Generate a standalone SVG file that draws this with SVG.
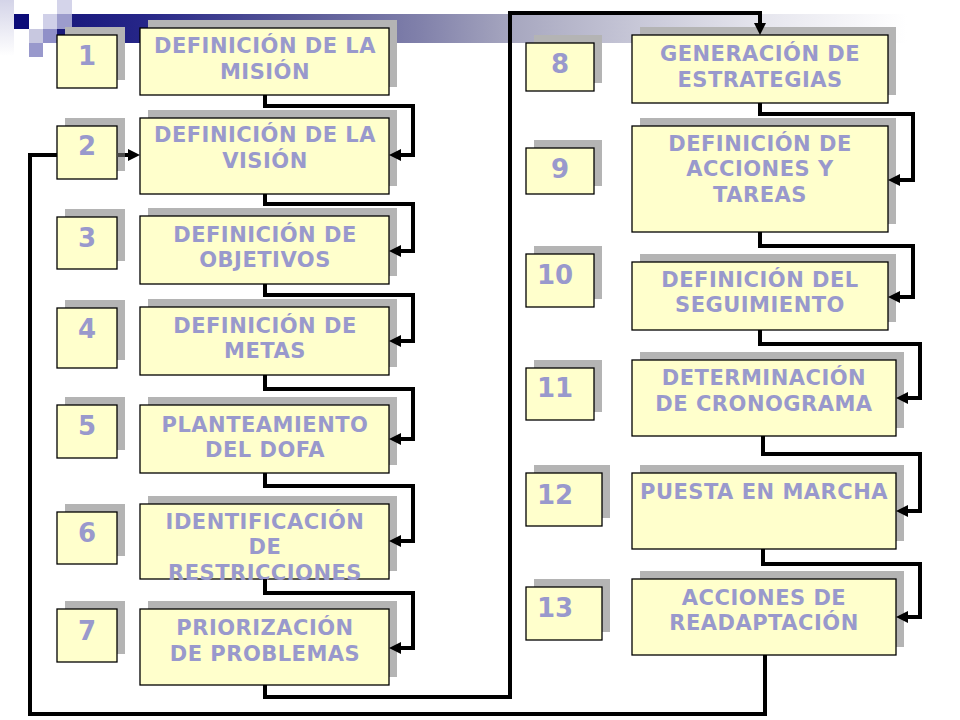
<svg xmlns="http://www.w3.org/2000/svg" width="960" height="720" viewBox="0 0 960 720">
<defs>
<linearGradient id="band" x1="72" y1="0" x2="960" y2="0" gradientUnits="userSpaceOnUse">
<stop offset="0" stop-color="#1a1a7e"/>
<stop offset="0.08" stop-color="#262688"/>
<stop offset="0.26" stop-color="#5a5a98"/>
<stop offset="0.39" stop-color="#8080aa"/>
<stop offset="0.5" stop-color="#a8a8c0"/>
<stop offset="0.64" stop-color="#c8c8d8"/>
<stop offset="0.78" stop-color="#e6e6ee"/>
<stop offset="0.94" stop-color="#ffffff"/>
</linearGradient>
<linearGradient id="strip" x1="0" y1="0" x2="0" y2="1">
<stop offset="0" stop-color="#d4d4e8"/>
<stop offset="1" stop-color="#ffffff"/>
</linearGradient>
<marker id="ah" markerUnits="userSpaceOnUse" markerWidth="12" markerHeight="12" refX="2" refY="6" orient="auto">
<path d="M0,0 L12,6 L0,12 z" fill="#000"/>
</marker>
<style>
.sh{fill:#b4b4b4}
.bx{fill:#ffffcc;stroke:#000;stroke-width:1.3}
.t{font-family:"DejaVu Sans","Verdana",sans-serif;font-weight:bold;font-size:21px;fill:#9999cc;text-anchor:middle;letter-spacing:0.5px}
.n{font-family:"DejaVu Sans","Verdana",sans-serif;font-weight:bold;font-size:26px;fill:#9999cc;text-anchor:middle}
.nl{text-anchor:start}
.c{fill:none;stroke:#000;stroke-width:4;stroke-linejoin:miter}
</style>
</defs>
<rect width="960" height="720" fill="#fff"/>
<g id="decoration">
<rect x="72" y="14" width="888" height="29" fill="url(#band)"/>
<rect x="0" y="0" width="14" height="56" fill="url(#strip)"/>
<rect x="14" y="14" width="15" height="15" fill="#0c0c78"/>
<rect x="43" y="14" width="14" height="15" fill="#d0d0e8"/>
<rect x="57" y="0" width="15" height="14" fill="#d4d4ea"/>
<rect x="57" y="14" width="15" height="15" fill="#9c9ccc"/>
<rect x="29" y="29" width="14" height="14" fill="#c8c8e0"/>
<rect x="43" y="29" width="14" height="14" fill="#9090c8"/>
<rect x="57" y="29" width="15" height="14" fill="#1a1a7a"/>
<rect x="29" y="43" width="14" height="14" fill="#9999cc"/>
</g>
<g id="node1">
<rect class="sh" x="65" y="27" width="60" height="53"/><rect class="bx" x="57" y="35" width="60" height="53"/><text class="n" x="87" y="65">1</text>
<rect class="sh" x="148" y="20" width="249" height="67"/><rect class="bx" x="140" y="28" width="249" height="67"/>
<text class="t" x="265" y="53">DEFINICIÓN DE LA</text><text class="t" x="265" y="79">MISIÓN</text>
</g>
<g id="node2">
<rect class="sh" x="65" y="118" width="60" height="53"/><rect class="bx" x="57" y="126" width="60" height="53"/><text class="n" x="87" y="155">2</text>
<rect class="sh" x="148" y="110" width="249" height="76"/><rect class="bx" x="140" y="118" width="249" height="76"/>
<text class="t" x="265" y="142">DEFINICIÓN DE LA</text><text class="t" x="265" y="168">VISIÓN</text>
</g>
<g id="node3">
<rect class="sh" x="65" y="209" width="60" height="52"/><rect class="bx" x="57" y="217" width="60" height="52"/><text class="n" x="87" y="247">3</text>
<rect class="sh" x="148" y="208" width="249" height="68"/><rect class="bx" x="140" y="216" width="249" height="68"/>
<text class="t" x="265" y="242">DEFINICIÓN DE</text><text class="t" x="265" y="267">OBJETIVOS</text>
</g>
<g id="node4">
<rect class="sh" x="65" y="300" width="60" height="60"/><rect class="bx" x="57" y="308" width="60" height="60"/><text class="n" x="87" y="338">4</text>
<rect class="sh" x="148" y="299" width="249" height="68"/><rect class="bx" x="140" y="307" width="249" height="68"/>
<text class="t" x="265" y="333">DEFINICIÓN DE</text><text class="t" x="265" y="358">METAS</text>
</g>
<g id="node5">
<rect class="sh" x="65" y="397" width="60" height="53"/><rect class="bx" x="57" y="405" width="60" height="53"/><text class="n" x="87" y="435">5</text>
<rect class="sh" x="148" y="397" width="249" height="68"/><rect class="bx" x="140" y="405" width="249" height="68"/>
<text class="t" x="265" y="432">PLANTEAMIENTO</text><text class="t" x="265" y="457">DEL DOFA</text>
</g>
<g id="node6">
<rect class="sh" x="65" y="504" width="60" height="52"/><rect class="bx" x="57" y="512" width="60" height="52"/><text class="n" x="87" y="542">6</text>
<rect class="sh" x="148" y="496" width="249" height="75"/><rect class="bx" x="140" y="504" width="249" height="75"/>
<text class="t" x="265" y="529">IDENTIFICACIÓN</text><text class="t" x="265" y="554">DE</text><text class="t" x="265" y="580">RESTRICCIONES</text>
</g>
<g id="node7">
<rect class="sh" x="65" y="601" width="60" height="53"/><rect class="bx" x="57" y="609" width="60" height="53"/><text class="n" x="87" y="640">7</text>
<rect class="sh" x="148" y="601" width="249" height="76"/><rect class="bx" x="140" y="609" width="249" height="76"/>
<text class="t" x="265" y="635">PRIORIZACIÓN</text><text class="t" x="265" y="661">DE PROBLEMAS</text>
</g>
<g id="node8">
<rect class="sh" x="534" y="35" width="68" height="48"/><rect class="bx" x="526" y="43" width="68" height="48"/><text class="n" x="560" y="73">8</text>
<rect class="sh" x="640" y="27" width="256" height="68"/><rect class="bx" x="632" y="35" width="256" height="68"/>
<text class="t" x="760" y="61">GENERACIÓN DE</text><text class="t" x="760" y="87">ESTRATEGIAS</text>
</g>
<g id="node9">
<rect class="sh" x="534" y="140" width="68" height="46"/><rect class="bx" x="526" y="148" width="68" height="46"/><text class="n" x="560" y="178">9</text>
<rect class="sh" x="640" y="118" width="256" height="106"/><rect class="bx" x="632" y="126" width="256" height="106"/>
<text class="t" x="760" y="151">DEFINICIÓN DE</text><text class="t" x="760" y="176">ACCIONES Y</text><text class="t" x="760" y="202">TAREAS</text>
</g>
<g id="node10">
<rect class="sh" x="534" y="246" width="68" height="53"/><rect class="bx" x="526" y="254" width="68" height="53"/><text class="n nl" x="537" y="284">10</text>
<rect class="sh" x="640" y="254" width="256" height="68"/><rect class="bx" x="632" y="262" width="256" height="68"/>
<text class="t" x="760" y="287">DEFINICIÓN DEL</text><text class="t" x="760" y="312">SEGUIMIENTO</text>
</g>
<g id="node11">
<rect class="sh" x="534" y="360" width="68" height="52"/><rect class="bx" x="526" y="368" width="68" height="52"/><text class="n nl" x="537" y="397">11</text>
<rect class="sh" x="640" y="352" width="264" height="76"/><rect class="bx" x="632" y="360" width="264" height="76"/>
<text class="t" x="764" y="385">DETERMINACIÓN</text><text class="t" x="764" y="411">DE CRONOGRAMA</text>
</g>
<g id="node12">
<rect class="sh" x="534" y="465" width="76" height="53"/><rect class="bx" x="526" y="473" width="76" height="53"/><text class="n nl" x="537" y="504">12</text>
<rect class="sh" x="640" y="465" width="264" height="76"/><rect class="bx" x="632" y="473" width="264" height="76"/>
<text class="t" x="764" y="499">PUESTA EN MARCHA</text>
</g>
<g id="node13">
<rect class="sh" x="534" y="579" width="76" height="53"/><rect class="bx" x="526" y="587" width="76" height="53"/><text class="n nl" x="537" y="617">13</text>
<rect class="sh" x="640" y="571" width="264" height="76"/><rect class="bx" x="632" y="579" width="264" height="76"/>
<text class="t" x="764" y="605">ACCIONES DE</text><text class="t" x="764" y="630">READAPTACIÓN</text>
</g>
<g id="connectors">
<path class="c" d="M265,95 V106 H413 V155 H399" marker-end="url(#ah)"/>
<path class="c" d="M265,194 V204 H413 V251 H399" marker-end="url(#ah)"/>
<path class="c" d="M265,284 V295 H413 V341 H399" marker-end="url(#ah)"/>
<path class="c" d="M265,375 V389 H413 V439 H399" marker-end="url(#ah)"/>
<path class="c" d="M265,473 V486 H413 V541 H399" marker-end="url(#ah)"/>
<path class="c" d="M265,579 V593 H413 V648 H399" marker-end="url(#ah)"/>
<path class="c" d="M265,685 V697 H510 V13 H760 V25" marker-end="url(#ah)"/>
<path class="c" d="M760,103 V114 H913 V180 H898" marker-end="url(#ah)"/>
<path class="c" d="M760,232 V246 H913 V297 H898" marker-end="url(#ah)"/>
<path class="c" d="M760,330 V344 H920 V398 H906" marker-end="url(#ah)"/>
<path class="c" d="M763,436 V454 H920 V511 H906" marker-end="url(#ah)"/>
<path class="c" d="M763,549 V564 H920 V617 H906" marker-end="url(#ah)"/>
<path class="c" d="M765,655 V714 H30 V155 H57"/>
<path d="M117,155 H126" fill="none" stroke="#4a4a4a" stroke-width="4"/>
<path class="c" d="M125,155 H130" marker-end="url(#ah)"/>
</g>
</svg>
